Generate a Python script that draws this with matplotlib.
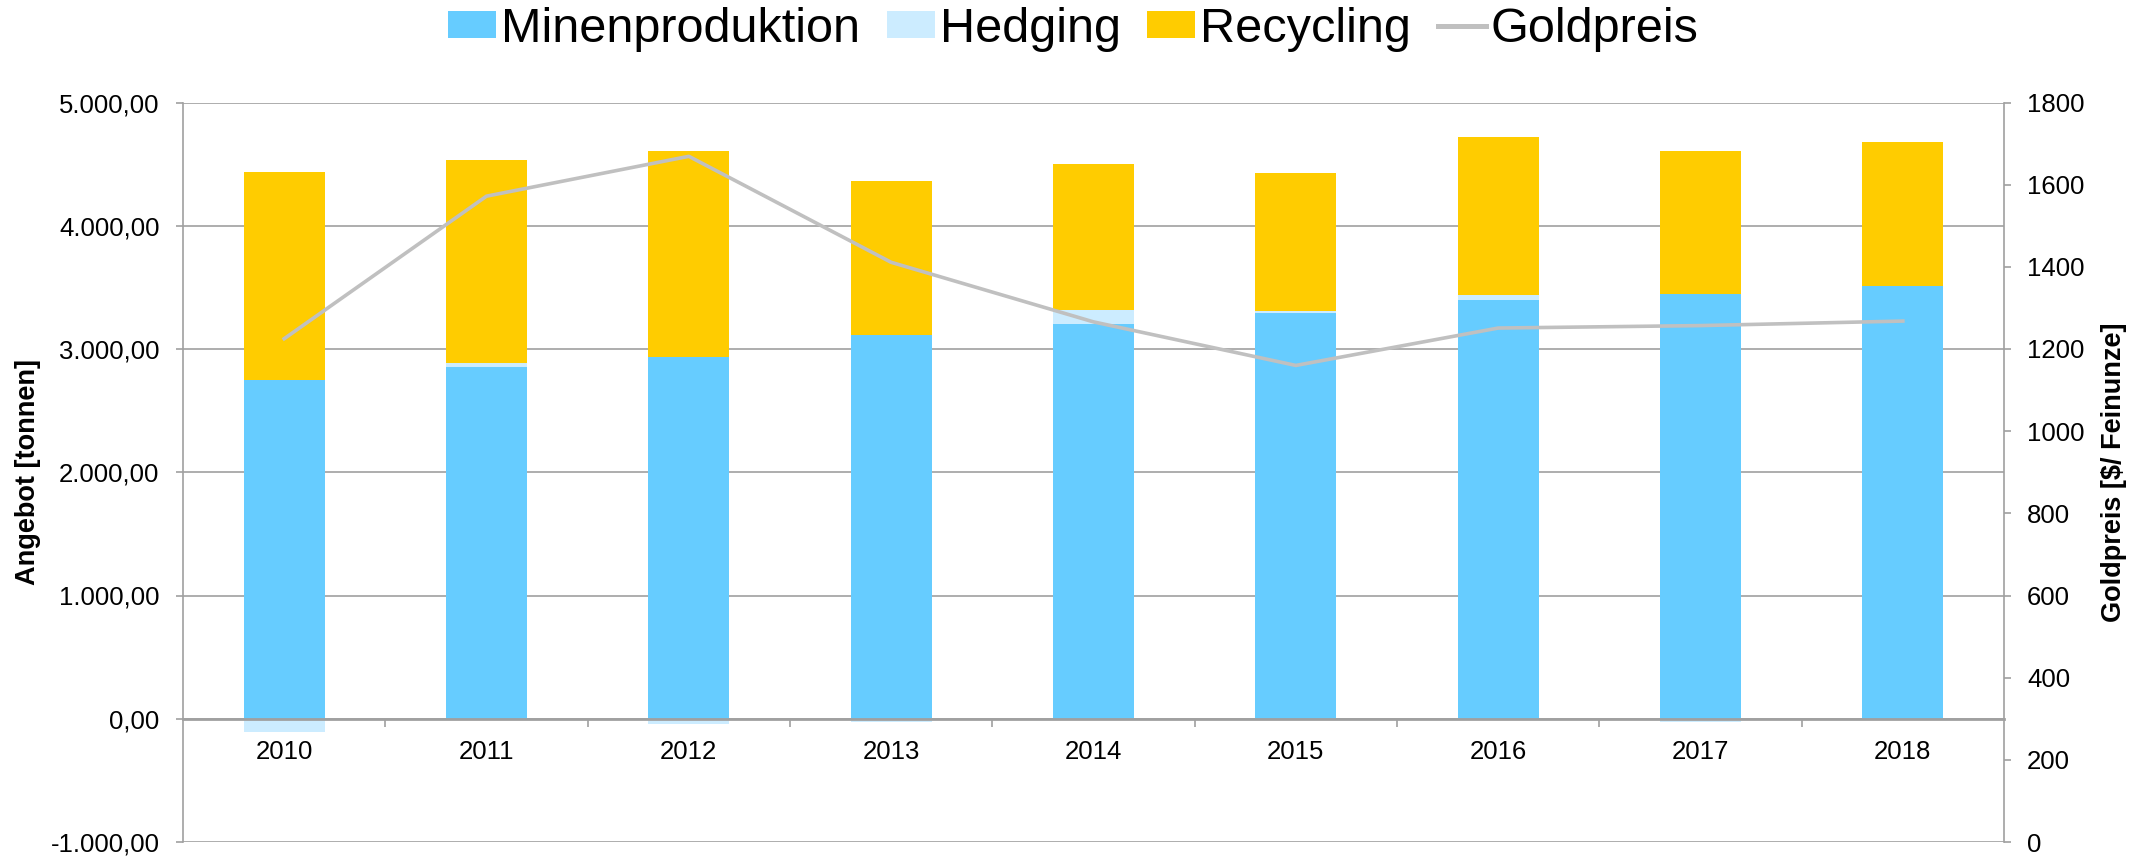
import matplotlib
matplotlib.use("Agg")
import matplotlib.pyplot as plt
from matplotlib.patches import Patch
from matplotlib.lines import Line2D
from matplotlib.ticker import FuncFormatter, FixedLocator
import numpy as np

years = ["2010", "2011", "2012", "2013", "2014", "2015", "2016", "2017", "2018"]
minenproduktion = [2752, 2855, 2933, 3114, 3206, 3295, 3401, 3447, 3509]
hedging = [-108, 30, -43, -27, 109, 14, 40, -24, -10]
recycling = [1682, 1652, 1674, 1249, 1189, 1122, 1277, 1157, 1168]
goldpreis = [1225, 1572, 1669, 1411, 1266, 1160, 1251, 1257, 1268]

c_mine = "#66CCFF"
c_hedge = "#CCECFF"
c_rec = "#FFCC00"
c_gold = "#C0C0C0"
c_axis = "#A0A0A0"

plt.rcParams["font.family"] = ["Liberation Sans", "DejaVu Sans"]

fig = plt.figure(figsize=(21.51, 8.58), dpi=100)
ax = fig.add_axes([183 / 2151, 1 - 842 / 858, (2004 - 183) / 2151, (842 - 102.5) / 858])

x = np.arange(len(years))
mine = np.array(minenproduktion, dtype=float)
hedge = np.array(hedging, dtype=float)
rec = np.array(recycling, dtype=float)

hedge_bottom = np.where(hedge >= 0, mine, 0)
rec_bottom = mine + np.clip(hedge, 0, None)

w = 0.40
ax.bar(x, mine, width=w, color=c_mine, zorder=2)
ax.bar(x, hedge, width=w, bottom=hedge_bottom, color=c_hedge, zorder=2)
ax.bar(x, rec, width=w, bottom=rec_bottom, color=c_rec, zorder=2)

ax.set_xlim(-0.5, len(years) - 0.5)
ax.set_ylim(-1000, 5000)
ax.set_yticks(np.arange(-1000, 5001, 1000))
ax.yaxis.set_major_formatter(FuncFormatter(
    lambda v, p: f"{v:,.2f}".replace(",", "X").replace(".", ",").replace("X", ".")))
ax.grid(axis="y", color=c_axis, linewidth=1.2, zorder=0)
ax.set_axisbelow(True)

ax.spines["bottom"].set_position(("data", 0))
ax.spines["bottom"].set_color(c_axis)
ax.spines["bottom"].set_linewidth(2)
ax.spines["bottom"].set_zorder(3)
ax.spines["top"].set_visible(False)
ax.spines["left"].set_color(c_axis)
ax.spines["right"].set_visible(False)
ax.spines["left"].set_linewidth(1.2)

ax.set_xticks(x)
ax.set_xticklabels(years)
ax.xaxis.set_minor_locator(FixedLocator(np.arange(0.5, len(years) - 1, 1.0)))
ax.tick_params(axis="x", which="major", length=0, pad=15, labelsize=18.5)
ax.tick_params(axis="x", which="minor", length=5.5, width=1.2, color=c_axis, direction="out")
ax.tick_params(axis="y", length=5, width=1.2, color=c_axis, pad=12, labelsize=18.5)

ax.set_ylabel("Angebot [tonnen]", fontsize=19.5, fontweight="bold", labelpad=7)

ax2 = ax.twinx()
ax2.plot(x, goldpreis, color=c_gold, linewidth=2.6, zorder=4)
ax2.set_ylim(0, 1800)
ax2.set_yticks(np.arange(0, 1801, 200))
for s in ["top", "bottom", "left"]:
    ax2.spines[s].set_visible(False)
ax2.spines["right"].set_color(c_axis)
ax2.spines["right"].set_linewidth(1.2)
ax2.tick_params(axis="y", length=5, width=1.2, color=c_axis, pad=11.5, labelsize=18.5)
ax2.set_ylabel("Goldpreis [$/ Feinunze]", fontsize=19.5, fontweight="bold", labelpad=12)

handles = [
    Patch(facecolor=c_mine, edgecolor="none", label="Minenproduktion"),
    Patch(facecolor=c_hedge, edgecolor="none", label="Hedging"),
    Patch(facecolor=c_rec, edgecolor="none", label="Recycling"),
    Line2D([0], [0], color=c_gold, linewidth=3.6, label="Goldpreis"),
]
fig.legend(handles=handles, loc="center", bbox_to_anchor=(0.499, 0.966), ncol=4,
           frameon=False, fontsize=35, handlelength=0.99, handleheight=0.5,
           handletextpad=0.1, columnspacing=0.55, borderpad=0, borderaxespad=0)

fig.savefig("out.png", dpi=100)
